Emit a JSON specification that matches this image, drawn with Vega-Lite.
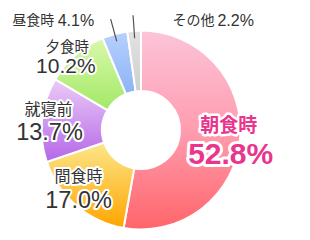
{
  "$schema": "https://vega.github.io/schema/vega-lite/v6.json",
  "width": 282,
  "height": 220,
  "autosize": "none",
  "padding": {"left": 0, "top": 20, "right": 28, "bottom": 0},
  "background": "white",
  "view": {"stroke": null},
  "data": {
    "values": [
      {"label": "朝食時", "share": 0.528, "order": 1},
      {"label": "間食時", "share": 0.170, "order": 2},
      {"label": "就寝前", "share": 0.137, "order": 3},
      {"label": "夕食時", "share": 0.102, "order": 4},
      {"label": "昼食時", "share": 0.041, "order": 5},
      {"label": "その他", "share": 0.022, "order": 6}
    ]
  },
  "encoding": {
    "theta": {"field": "share", "type": "quantitative", "stack": true},
    "order": {"field": "order", "type": "quantitative"}
  },
  "layer": [
    {
      "mark": {"type": "arc", "outerRadius": 99.5, "innerRadius": 39, "stroke": "white", "strokeWidth": 2},
      "encoding": {
        "fill": {
          "condition": [
            {"test": "datum.label === '朝食時'", "value": {"gradient": "linear", "x1": 0, "y1": 0, "x2": 0, "y2": 1, "stops": [{"offset": 0, "color": "#fcc4d9"}, {"offset": 0.5, "color": "#ff9db0"}, {"offset": 1, "color": "#ff656a"}]}},
            {"test": "datum.label === '間食時'", "value": {"gradient": "linear", "x1": 0, "y1": 0, "x2": 0, "y2": 1, "stops": [{"offset": 0, "color": "#fde68a"}, {"offset": 1, "color": "#ffa500"}]}},
            {"test": "datum.label === '就寝前'", "value": {"gradient": "linear", "x1": 0, "y1": 0, "x2": 0, "y2": 1, "stops": [{"offset": 0, "color": "#ebcbf7"}, {"offset": 1, "color": "#b567e8"}]}},
            {"test": "datum.label === '夕食時'", "value": {"gradient": "linear", "x1": 0, "y1": 0, "x2": 0, "y2": 1, "stops": [{"offset": 0, "color": "#d8f9ab"}, {"offset": 1, "color": "#a4e866"}]}},
            {"test": "datum.label === '昼食時'", "value": {"gradient": "linear", "x1": 0, "y1": 0, "x2": 0, "y2": 1, "stops": [{"offset": 0, "color": "#b7d1fc"}, {"offset": 1, "color": "#8db3f7"}]}}
          ],
          "value": {"gradient": "linear", "x1": 0, "y1": 0, "x2": 0, "y2": 1, "stops": [{"offset": 0, "color": "#e2e2e2"}, {"offset": 1, "color": "#cfcfcf"}]}
        }
      }
    },
    {
      "mark": {"type": "arc", "outerRadius": 115, "innerRadius": 92, "padAngle": 1.5, "fillOpacity": 0, "strokeWidth": 1.2},
      "encoding": {
        "stroke": {"condition": {"test": "datum.label === '昼食時' || datum.label === 'その他'", "value": "#555555"}, "value": null}
      }
    },
    {
      "mark": {"type": "text", "radius": 88, "dx": 0, "dy": -12, "font": "Noto Sans CJK JP", "fontSize": 19, "fontWeight": "bold", "fill": "white", "stroke": "white", "strokeWidth": 5, "strokeJoin": "round", "align": "center", "baseline": "middle"},
      "encoding": {"text": {"field": "label", "type": "nominal", "condition": {"test": "datum.label !== '朝食時'", "value": ""}}}
    },
    {
      "mark": {"type": "text", "radius": 88, "dx": 0, "dy": -12, "font": "Noto Sans CJK JP", "fontSize": 19, "fontWeight": "bold", "fill": "#e9358c", "align": "center", "baseline": "middle"},
      "encoding": {"text": {"field": "label", "type": "nominal", "condition": {"test": "datum.label !== '朝食時'", "value": ""}}}
    },
    {
      "mark": {"type": "text", "radius": 88, "dx": 2, "dy": 17, "font": "Liberation Sans", "fontSize": 30, "fontWeight": "bold", "fill": "white", "stroke": "white", "strokeWidth": 6, "strokeJoin": "round", "align": "center", "baseline": "middle"},
      "encoding": {"text": {"field": "share", "type": "quantitative", "format": ".1%", "condition": {"test": "datum.label !== '朝食時'", "value": ""}}}
    },
    {
      "mark": {"type": "text", "radius": 88, "dx": 2, "dy": 17, "font": "Liberation Sans", "fontSize": 30, "fontWeight": "bold", "fill": "#e9358c", "align": "center", "baseline": "middle"},
      "encoding": {"text": {"field": "share", "type": "quantitative", "format": ".1%", "condition": {"test": "datum.label !== '朝食時'", "value": ""}}}
    },
    {
      "mark": {"type": "text", "radius": 85, "dx": -7, "dy": -17, "font": "Noto Sans CJK JP", "fontSize": 16, "fill": "white", "stroke": "white", "strokeWidth": 4, "strokeJoin": "round", "align": "center", "baseline": "middle"},
      "encoding": {"text": {"field": "label", "type": "nominal", "condition": {"test": "datum.label !== '間食時'", "value": ""}}}
    },
    {
      "mark": {"type": "text", "radius": 85, "dx": -7, "dy": -17, "font": "Noto Sans CJK JP", "fontSize": 16, "fill": "#333333", "align": "center", "baseline": "middle"},
      "encoding": {"text": {"field": "label", "type": "nominal", "condition": {"test": "datum.label !== '間食時'", "value": ""}}}
    },
    {
      "mark": {"type": "text", "radius": 85, "dx": -7, "dy": 7, "font": "Liberation Sans", "fontSize": 23.5, "fill": "white", "stroke": "white", "strokeWidth": 4, "strokeJoin": "round", "align": "center", "baseline": "middle"},
      "encoding": {"text": {"field": "share", "type": "quantitative", "format": ".1%", "condition": {"test": "datum.label !== '間食時'", "value": ""}}}
    },
    {
      "mark": {"type": "text", "radius": 85, "dx": -7, "dy": 7, "font": "Liberation Sans", "fontSize": 23.5, "fill": "#333333", "align": "center", "baseline": "middle"},
      "encoding": {"text": {"field": "share", "type": "quantitative", "format": ".1%", "condition": {"test": "datum.label !== '間食時'", "value": ""}}}
    },
    {
      "mark": {"type": "text", "radius": 91, "dx": -2, "dy": -11, "font": "Noto Sans CJK JP", "fontSize": 16, "fill": "white", "stroke": "white", "strokeWidth": 4, "strokeJoin": "round", "align": "center", "baseline": "middle"},
      "encoding": {"text": {"field": "label", "type": "nominal", "condition": {"test": "datum.label !== '就寝前'", "value": ""}}}
    },
    {
      "mark": {"type": "text", "radius": 91, "dx": -2, "dy": -11, "font": "Noto Sans CJK JP", "fontSize": 16, "fill": "#333333", "align": "center", "baseline": "middle"},
      "encoding": {"text": {"field": "label", "type": "nominal", "condition": {"test": "datum.label !== '就寝前'", "value": ""}}}
    },
    {
      "mark": {"type": "text", "radius": 91, "dx": -1, "dy": 12, "font": "Liberation Sans", "fontSize": 23.5, "fill": "white", "stroke": "white", "strokeWidth": 4, "strokeJoin": "round", "align": "center", "baseline": "middle"},
      "encoding": {"text": {"field": "share", "type": "quantitative", "format": ".1%", "condition": {"test": "datum.label !== '就寝前'", "value": ""}}}
    },
    {
      "mark": {"type": "text", "radius": 91, "dx": -1, "dy": 12, "font": "Liberation Sans", "fontSize": 23.5, "fill": "#333333", "align": "center", "baseline": "middle"},
      "encoding": {"text": {"field": "share", "type": "quantitative", "format": ".1%", "condition": {"test": "datum.label !== '就寝前'", "value": ""}}}
    },
    {
      "mark": {"type": "text", "radius": 100, "dx": -8, "dy": -7, "font": "Noto Sans CJK JP", "fontSize": 14.5, "fill": "white", "stroke": "white", "strokeWidth": 4, "strokeJoin": "round", "align": "center", "baseline": "middle"},
      "encoding": {"text": {"field": "label", "type": "nominal", "condition": {"test": "datum.label !== '夕食時'", "value": ""}}}
    },
    {
      "mark": {"type": "text", "radius": 100, "dx": -8, "dy": -7, "font": "Noto Sans CJK JP", "fontSize": 14.5, "fill": "#333333", "align": "center", "baseline": "middle"},
      "encoding": {"text": {"field": "label", "type": "nominal", "condition": {"test": "datum.label !== '夕食時'", "value": ""}}}
    },
    {
      "mark": {"type": "text", "radius": 100, "dx": -9.5, "dy": 12, "font": "Liberation Sans", "fontSize": 21, "fill": "white", "stroke": "white", "strokeWidth": 4, "strokeJoin": "round", "align": "center", "baseline": "middle"},
      "encoding": {"text": {"field": "share", "type": "quantitative", "format": ".1%", "condition": {"test": "datum.label !== '夕食時'", "value": ""}}}
    },
    {
      "mark": {"type": "text", "radius": 100, "dx": -9.5, "dy": 12, "font": "Liberation Sans", "fontSize": 21, "fill": "#333333", "align": "center", "baseline": "middle"},
      "encoding": {"text": {"field": "share", "type": "quantitative", "format": ".1%", "condition": {"test": "datum.label !== '夕食時'", "value": ""}}}
    },
    {
      "mark": {"type": "text", "radius": 113, "dx": -57, "dy": 0, "font": "Noto Sans CJK JP", "fontSize": 14, "fill": "#333333", "align": "right", "baseline": "middle"},
      "encoding": {"text": {"field": "label", "type": "nominal", "condition": {"test": "datum.label !== '昼食時'", "value": ""}}}
    },
    {
      "mark": {"type": "text", "radius": 113, "dx": -17, "dy": 0, "font": "Liberation Sans", "fontSize": 16, "fill": "#333333", "align": "right", "baseline": "middle"},
      "encoding": {"text": {"field": "share", "type": "quantitative", "format": ".1%", "condition": {"test": "datum.label !== '昼食時'", "value": ""}}}
    },
    {
      "mark": {"type": "text", "radius": 110, "dx": 39, "dy": 1, "font": "Noto Sans CJK JP", "fontSize": 14, "fill": "#333333", "align": "left", "baseline": "middle"},
      "encoding": {"text": {"field": "label", "type": "nominal", "condition": {"test": "datum.label !== 'その他'", "value": ""}}}
    },
    {
      "mark": {"type": "text", "radius": 110, "dx": 84, "dy": 1, "font": "Liberation Sans", "fontSize": 16, "fill": "#333333", "align": "left", "baseline": "middle"},
      "encoding": {"text": {"field": "share", "type": "quantitative", "format": ".1%", "condition": {"test": "datum.label !== 'その他'", "value": ""}}}
    }
  ]
}
